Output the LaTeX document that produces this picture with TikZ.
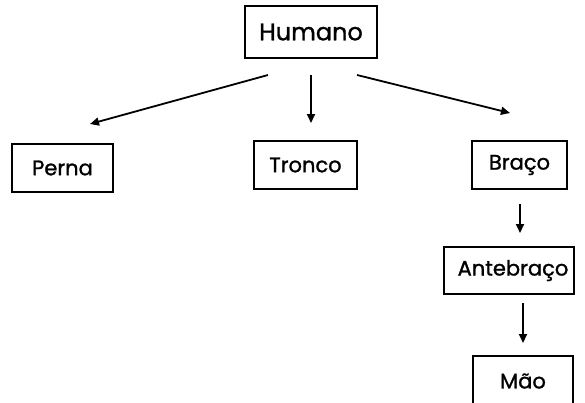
\documentclass[tikz,border=0pt]{standalone}
\usepackage{fontspec}
\setmainfont{Poppins}[FakeBold=1.2,BoldFont=Poppins]
\usetikzlibrary{arrows.meta}
\begin{document}
\begin{tikzpicture}[x=1pt,y=-1pt,
  box/.style={draw=black,line width=1.7pt,fill=white,inner sep=0pt,font=\fontsize{21}{24}\selectfont\bfseries},
  conn/.style={line width=1.8pt,-{Triangle[length=9pt,width=8pt]}}]
\useasboundingbox (0,0) rectangle (585,402);
\node[box,minimum width=132pt,minimum height=52pt,font=\fontsize{24}{28}\selectfont\bfseries] (humano) at (311,32) {Humano};
\node[box,minimum width=101pt,minimum height=48pt] (perna) at (62.5,168) {Perna\hspace{8pt}};
\node[box,minimum width=103pt,minimum height=48pt] (tronco) at (305.5,165) {Tronco};
\node[box,minimum width=95pt,minimum height=48pt] (braco) at (519.5,165) {Braço};
\node[box,minimum width=130pt,minimum height=47pt] (ante) at (509,270.5) {\hspace{8pt}Antebraço};
\node[box,minimum width=100pt,minimum height=50pt] (mao) at (523,381) {Mão\hspace{18pt}};
\coordinate (a1s) at (268,75);
\coordinate (a1e) at (90,124);
\coordinate (a2s) at (311,75);
\coordinate (a2e) at (311,123);
\coordinate (a3s) at (357,75);
\coordinate (a3e) at (510,113);
\coordinate (a4s) at (520,204);
\coordinate (a4e) at (520,233);
\coordinate (a5s) at (523,303);
\coordinate (a5e) at (523,343);
\draw[conn] (a1s) -- (a1e);
\draw[conn] (a2s) -- (a2e);
\draw[conn] (a3s) -- (a3e);
\draw[conn] (a4s) -- (a4e);
\draw[conn] (a5s) -- (a5e);
\end{tikzpicture}
\end{document}
